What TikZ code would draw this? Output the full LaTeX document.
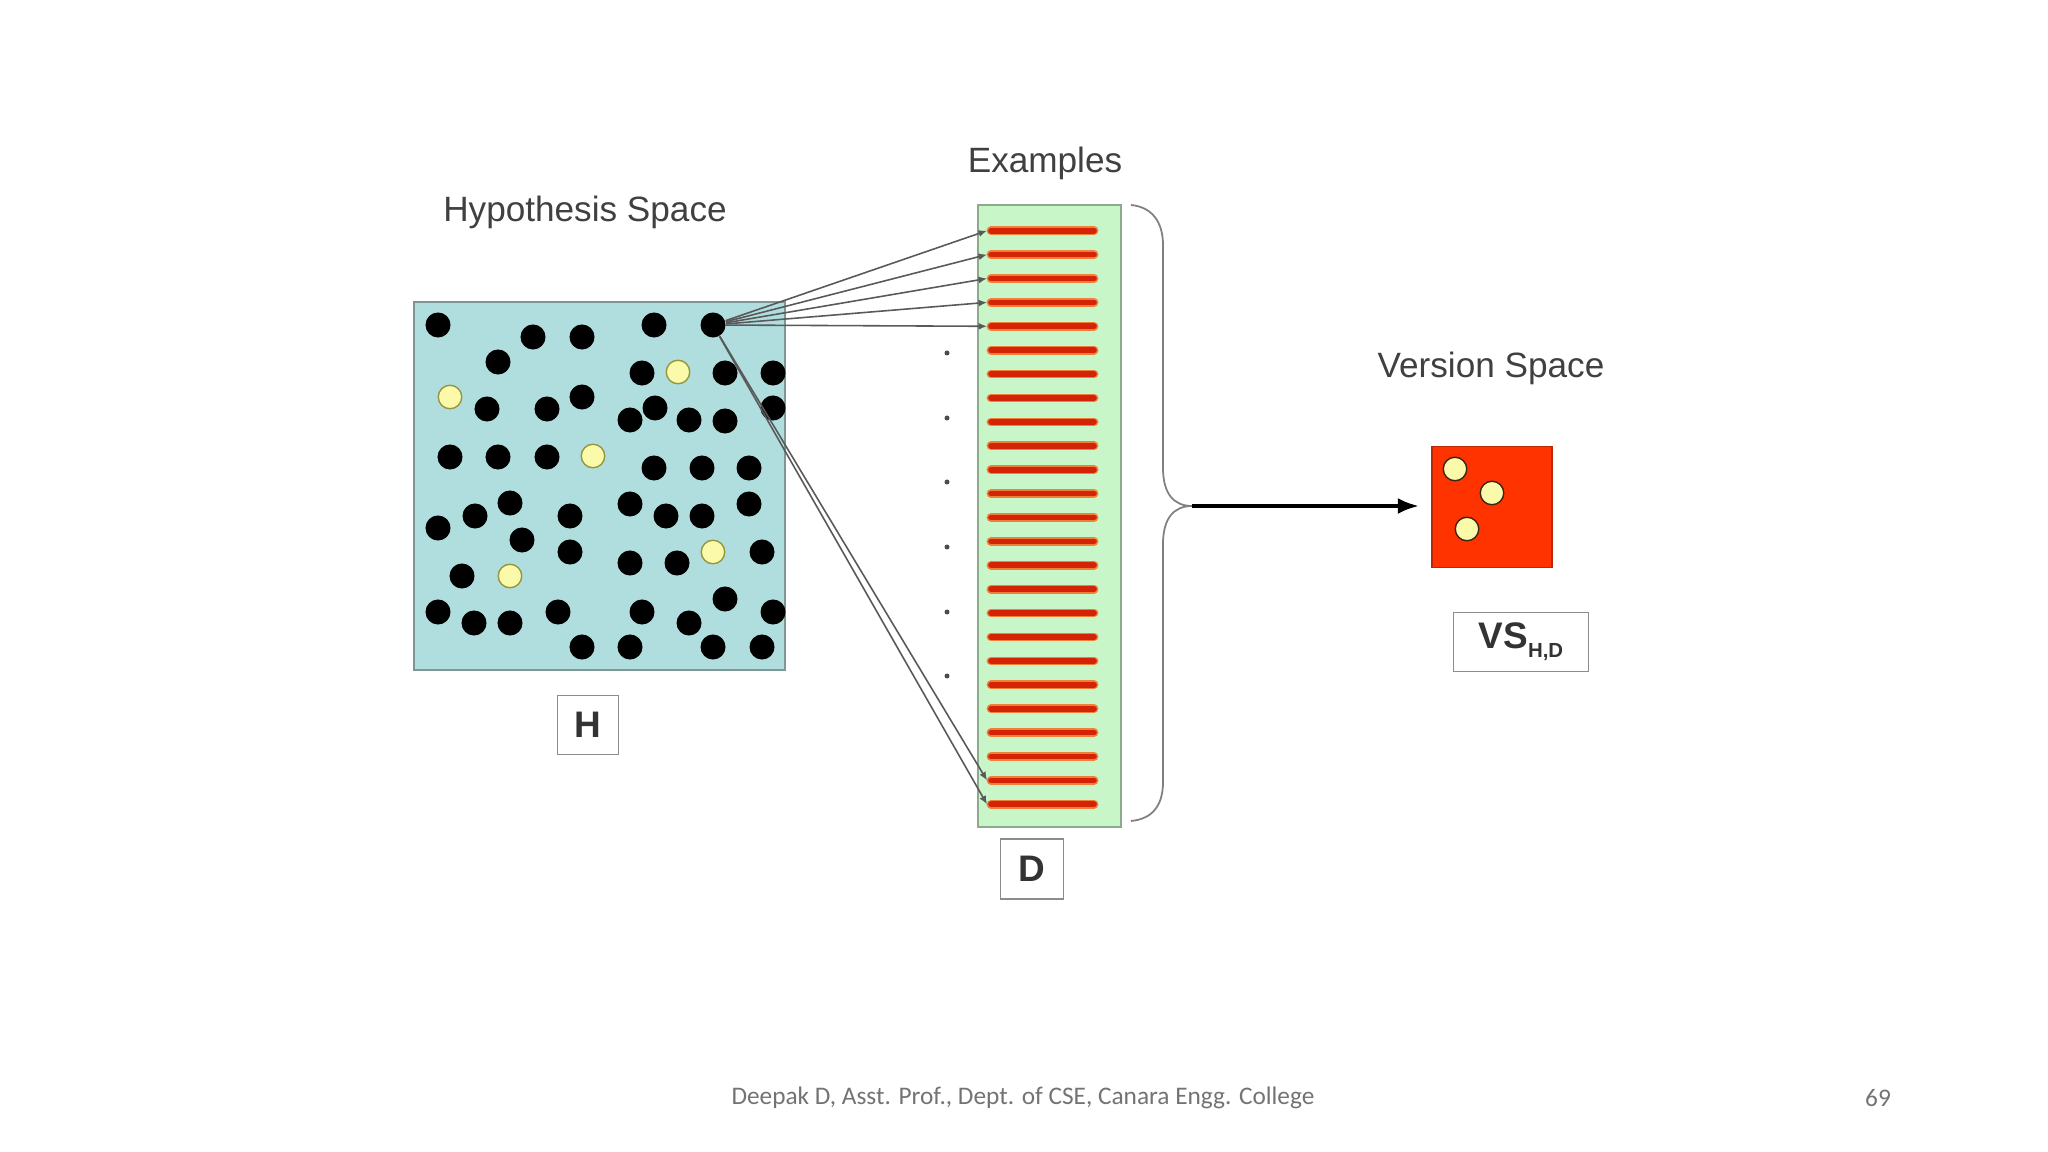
\documentclass[tikz,border=0pt]{standalone}
\usepackage{fontspec}
\setmainfont{Liberation Sans}
\newfontfamily\footfont{Carlito}
\usetikzlibrary{arrows.meta,calc}
\definecolor{hypfill}{RGB}{176,222,222}
\definecolor{hypline}{RGB}{125,150,150}
\definecolor{exfill}{RGB}{200,246,200}
\definecolor{exline}{RGB}{140,170,140}
\definecolor{stripe}{RGB}{212,36,8}
\definecolor{stripeglow}{RGB}{240,128,56}
\definecolor{vsfill}{RGB}{255,51,0}
\definecolor{vsline}{RGB}{190,40,0}
\definecolor{goodfill}{RGB}{250,250,170}
\definecolor{goodline}{RGB}{150,150,60}
\definecolor{titlegray}{RGB}{64,64,64}

\begin{document}
\begin{tikzpicture}[x=0.01cm,y=-0.01cm,
  bad/.style={circle,fill=black,inner sep=0pt,minimum size=0.25cm},
  good/.style={circle,draw=goodline,fill=goodfill,line width=0.4pt,inner sep=0pt,minimum size=0.235cm},
  title/.style={text=titlegray,font=\fontsize{10}{12}\selectfont},
  tag/.style={draw=black!45,fill=white,line width=0.4pt,inner sep=0pt,text=black!80,font=\fontsize{10.5}{12}\selectfont\bfseries},
  link/.style={draw=black!65,line width=0.45pt,-{Latex[length=2.4pt,width=2pt]}},
  arr/.style={-{Latex[length=6pt,width=4.5pt]},line width=1.1pt}]
\useasboundingbox (0,0) rectangle (2048,1152);

% hypothesis space
\node[draw=hypline,fill=hypfill,line width=0.5pt,minimum width=3.71cm,minimum height=3.68cm,inner sep=0pt] (hspace) at (599.5,486) {};
\node[title] (hyptitle) at (585,212) {Hypothesis Space};
\foreach \x/\y [count=\i] in {438/325,533/337,582/337,654/325,713/325,498/362,642/373,725/373,773/373,
  487/409,547/409,582/397,630/420,655/408,689/420,725/421,773/408,450/457,498/457,547/457,654/468,
  702/468,749/468,510/503,475/516,438/528,570/516,630/504,666/516,702/516,749/504,522/540,570/552,
  630/563,677/563,762/552,462/576,438/612,474/623,510/623,558/612,642/612,725/599,689/623,773/612,
  582/647,630/647,713/647,762/647}
  \node[bad] (h\i) at (\x,\y) {};
\foreach \x/\y [count=\i] in {678/372,450/397,593/456,713/552,510/576}
  \node[good] (g\i) at (\x,\y) {};
\node[tag,minimum width=0.61cm,minimum height=0.59cm] (hlab) at (588,725) {H};

% examples
\node[title] (extitle) at (1045,163) {Examples};
\node[draw=exline,fill=exfill,line width=0.5pt,minimum width=1.43cm,minimum height=6.22cm,inner sep=0pt] (exbox) at (1049.5,516) {};
\foreach \k in {1,...,25} {
  \coordinate (ex\k) at (987,{230.7+(\k-1)*23.9});
  \draw[stripeglow,line width=2.5pt,line cap=round] ($(ex\k)+(4,0)$) -- ($(ex\k)+(107,0)$);
  \draw[stripe,line width=1.6pt,line cap=round] ($(ex\k)+(4,0)$) -- ($(ex\k)+(107,0)$);
}
\node[tag,minimum width=0.63cm,minimum height=0.6cm] (dlab) at (1032,869) {D};
\foreach \y in {353,418,482,547,612,676} \fill[black!70] (947,\y) circle (0.025cm);

% hypothesis tested on examples
\foreach \k in {1,...,5} \draw[link] (h5) -- (ex\k);
\draw[link] (h5) -- (ex24);
\draw[link] (h5) -- (ex25);

% brace
\coordinate (brtip) at (1192,506);
\draw[black!50,line width=0.5pt] (1131,205) .. controls (1152,207) and (1163,222) .. (1163,245) -- (1163,468)
  .. controls (1163,494) and (1174,506) .. (brtip) .. controls (1174,506) and (1163,518) .. (1163,544)
  -- (1163,782) .. controls (1163,806) and (1152,819) .. (1131,821);

% version space
\node[title] (vstitle) at (1491,368) {Version Space};
\node[draw=vsline,fill=vsfill,line width=0.5pt,minimum width=1.2cm,minimum height=1.21cm,inner sep=0pt] (vs) at (1492,507) {};
\foreach \x/\y [count=\i] in {1455/469,1492/493,1467/529}
  \node[good,draw=black!70!brown] (v\i) at (\x,\y) {};
\draw[arr,shorten >=0.12cm] (brtip) -- (brtip -| vs.west);
\node[tag,minimum width=1.35cm,minimum height=0.59cm] (vslab) at (1521,642) {VS\raisebox{-2.6pt}{\fontsize{5.8}{7}\selectfont\bfseries H,D}};

% footer
\node[text=black!55,font=\footfont\fontsize{7.2}{8}\selectfont] (foot) at (1023,1098) {Deepak D, Asst. Prof., Dept. of CSE, Canara Engg. College};
\node[text=black!55,font=\footfont\fontsize{7.2}{8}\selectfont] (pageno) at (1878,1098) {69};
\end{tikzpicture}
\end{document}
